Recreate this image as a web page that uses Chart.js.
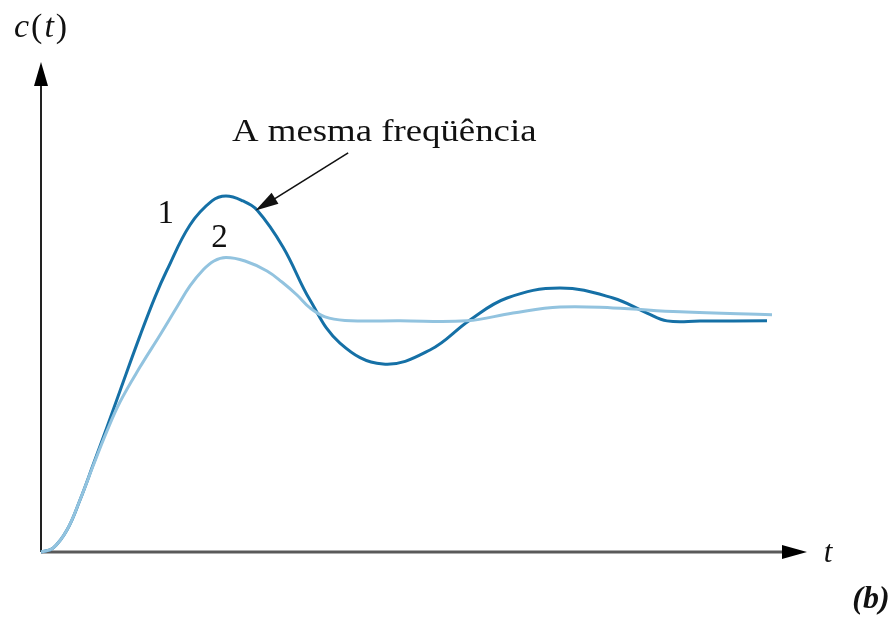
<!DOCTYPE html>
<html>
<head>
<meta charset="utf-8">
<script src="https://cdn.jsdelivr.net/npm/chart.js@4.4.1/dist/chart.umd.min.js"></script>
<style>
  html, body { margin: 0; padding: 0; background: #fff; }
  canvas { display: block; }
</style>
</head>
<body>
<canvas id="resposta" width="893" height="617"></canvas>
<script>
// curva 1: resposta mais oscilatória
const tempo1 = [0, 0.157, 0.339, 0.509, 0.679, 0.862, 1.031, 1.292, 1.488, 1.645, 1.945, 2.232, 2.415, 2.637, 2.82, 3.159, 3.512, 3.903, 4.465, 5.078, 5.601, 6.084, 6.775, 7.467, 7.911, 8.172, 8.603, 9.478];
const resposta1 = [0, 0.017, 0.095, 0.225, 0.376, 0.541, 0.697, 0.935, 1.103, 1.22, 1.415, 1.519, 1.54, 1.519, 1.48, 1.32, 1.09, 0.904, 0.813, 0.874, 1.004, 1.099, 1.142, 1.099, 1.034, 1.0, 0.999, 1.0];

// curva 2: resposta mais amortecida
const tempo2 = [0, 0.157, 0.339, 0.509, 0.679, 0.862, 1.031, 1.292, 1.554, 1.775, 1.945, 2.115, 2.258, 2.415, 2.663, 2.95, 3.146, 3.342, 3.512, 3.708, 3.969, 4.687, 5.561, 6.162, 6.775, 7.467, 8.342, 9.543];
const resposta2 = [0, 0.017, 0.095, 0.225, 0.372, 0.524, 0.649, 0.8, 0.939, 1.06, 1.151, 1.22, 1.259, 1.274, 1.259, 1.216, 1.168, 1.112, 1.056, 1.017, 1.002, 1.0, 1.0, 1.034, 1.06, 1.056, 1.039, 1.026];

const rotulosCurvas = ['1', '2'];
const textoSeta = 'A mesma freqüência';

const pontos = (xs, ys) => xs.map((x, i) => ({ x, y: ys[i] }));

const serif = '"Liberation Serif", "DejaVu Serif", serif';

function seta(ctx, x0, y0, x1, y1, comp, larg) {
  const ang = Math.atan2(y1 - y0, x1 - x0);
  ctx.beginPath();
  ctx.moveTo(x1, y1);
  ctx.lineTo(x1 - comp * Math.cos(ang) + larg * Math.sin(ang), y1 - comp * Math.sin(ang) - larg * Math.cos(ang));
  ctx.lineTo(x1 - comp * Math.cos(ang) - larg * Math.sin(ang), y1 - comp * Math.sin(ang) + larg * Math.cos(ang));
  ctx.closePath();
  ctx.fill();
}

// eixos com setas
const eixos = {
  id: 'eixos',
  beforeDatasetsDraw(chart) {
    const { ctx, chartArea: a } = chart;
    ctx.save();
    ctx.strokeStyle = '#5a5a5a';
    ctx.lineWidth = 3;
    ctx.beginPath();
    ctx.moveTo(a.left, a.bottom);
    ctx.lineTo(a.right - 12, a.bottom);
    ctx.stroke();
    ctx.strokeStyle = '#222';
    ctx.lineWidth = 2;
    ctx.beginPath();
    ctx.moveTo(a.left, a.bottom);
    ctx.lineTo(a.left, a.top + 12);
    ctx.stroke();
    ctx.fillStyle = '#000';
    seta(ctx, a.left, a.bottom, a.right, a.bottom, 25, 7);
    seta(ctx, a.left, a.bottom, a.left, a.top, 24, 7);
    ctx.restore();
  },
  afterDraw(chart) {
    const { ctx, chartArea: a, scales: { x, y } } = chart;
    ctx.save();
    ctx.fillStyle = '#111';
    ctx.textBaseline = 'middle';

    // c(t)
    ctx.textAlign = 'left';
    let px = a.left - 27;
    const py = 28;
    const partes = [['c', 'italic '], ['(', ''], ['t', 'italic '], [')', '']];
    partes.forEach(([s, est]) => {
      ctx.font = est + '34px ' + serif;
      ctx.fillText(s, px, py);
      px += ctx.measureText(s).width + 2;
    });

    // t no eixo horizontal
    ctx.font = 'italic 31px ' + serif;
    ctx.textAlign = 'center';
    ctx.fillText('t', a.right + 21, a.bottom + 2);

    // (b)
    ctx.font = 'italic bold 32px ' + serif;
    ctx.fillText('(b)', 871, 600);

    // rótulos das curvas
    ctx.font = '33px ' + serif;
    ctx.fillText(rotulosCurvas[0], x.getPixelForValue(1.63), y.getPixelForValue(1.46));
    ctx.fillText(rotulosCurvas[1], x.getPixelForValue(2.33), y.getPixelForValue(1.358));

    // anotação
    const xs = x.getPixelForValue(4.01), ys = y.getPixelForValue(1.727);
    const xp = x.getPixelForValue(2.80), yp = y.getPixelForValue(1.478);
    ctx.strokeStyle = '#111';
    ctx.lineWidth = 1.6;
    ctx.beginPath();
    ctx.moveTo(xs, ys);
    ctx.lineTo(xp + 15, yp - 9);
    ctx.stroke();
    seta(ctx, xs, ys, xp, yp, 23, 6.5);

    ctx.save();
    ctx.translate(232, 133);
    ctx.scale(1.15, 1);
    ctx.font = '32px ' + serif;
    ctx.textAlign = 'left';
    ctx.fillText(textoSeta, 0, 0);
    ctx.restore();

    ctx.restore();
  }
};

new Chart(document.getElementById('resposta'), {
  type: 'line',
  data: {
    datasets: [
      {
        label: rotulosCurvas[1],
        data: pontos(tempo2, resposta2),
        borderColor: '#92c3df',
        borderWidth: 3,
        pointRadius: 0,
        tension: 0.4,
        clip: false
      },
      {
        label: rotulosCurvas[0],
        data: pontos(tempo1, resposta1),
        borderColor: '#1570a6',
        borderWidth: 3,
        pointRadius: 0,
        tension: 0.4,
        clip: false
      }
    ]
  },
  options: {
    responsive: false,
    animation: false,
    layout: { padding: { left: 41, right: 86, top: 62, bottom: 65 } },
    scales: {
      x: { type: 'linear', display: false, min: 0, max: 10 },
      y: { display: false, min: 0, max: 2.12 }
    },
    plugins: {
      legend: { display: false },
      tooltip: { enabled: false }
    }
  },
  plugins: [eixos]
});
</script>
</body>
</html>
